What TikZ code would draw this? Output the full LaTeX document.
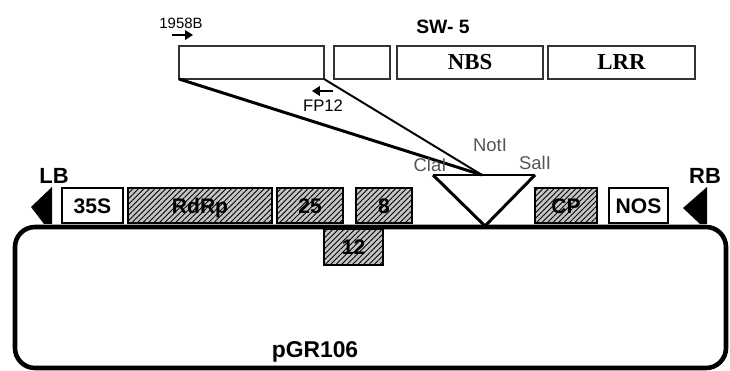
\documentclass[tikz,border=0pt]{standalone}
\usepackage{fontspec}
\setmainfont{Liberation Sans}
\newfontfamily\timesbf{Liberation Serif}
\usetikzlibrary{arrows.meta,patterns.meta}
\definecolor{hatchGray}{HTML}{C4C4C4}
\definecolor{siteGray}{HTML}{555555}
\definecolor{frameGray}{HTML}{333333}

\begin{document}
\begin{tikzpicture}[x=0.02cm,y=-0.02cm,
	swbox/.style={draw=frameGray,line width=0.6pt,inner sep=0pt,outer sep=0pt,minimum height=33*0.02cm,font=\timesbf\fontsize{13}{13}\selectfont\bfseries},
	genebox/.style={draw,line width=0.6pt,inner sep=0pt,outer sep=0pt,minimum height=35*0.02cm,text height=8.6pt,text depth=0pt,font=\fontsize{12}{12}\selectfont\bfseries},
	hatched/.style={genebox,preaction={fill=hatchGray},pattern={Lines[angle=45,distance=2.2pt,line width=0.5pt]}},
	site/.style={font=\fontsize{10.5}{10.5}\selectfont,text=siteGray,inner sep=0pt},
	primer/.style={line width=0.8pt,-{Triangle[length=4.5pt,width=5.5pt]}},
	tag/.style={font=\fontsize{8.5}{8.5}\selectfont,inner sep=0pt}]
	\useasboundingbox(0,0)rectangle(730,371);
	\node[font=\fontsize{11}{11}\selectfont\bfseries](sw5)at(443,27){SW- 5};
	\foreach \nm/\l/\r/\lb in{sa/179/324/,sb/334/390/,nbs/397/543/NBS,lrr/548/695/LRR}
		\node[swbox,minimum width={(\r-\l)*0.02cm}](\nm)at({(\l+\r)/2},62.5){\lb};
	\node[tag](p1958)at(181,23){1958B};
	\coordinate(f1)at(172,35);\coordinate(f2)at(193,35);
	\draw[primer](f1)--(f2);
	\coordinate(r1)at(333,91);\coordinate(r2)at(312,91);
	\draw[primer](r1)--(r2);
	\node[tag,font=\fontsize{9.5}{9.5}\selectfont](fp12)at(323,106){FP12};
	\foreach \nm/\l/\r/\lb in{p35s/62/123/35S,nos/609/668/NOS}
		\node[genebox,minimum width={(\r-\l)*0.02cm}](\nm)at({(\l+\r)/2},205.5){\lb};
	\foreach \nm/\l/\r/\lb in{rdrp/128/272/RdRp,p25/277/343/25,p8/356/412/8,cp/535/597/CP}
		\node[hatched,minimum width={(\r-\l)*0.02cm}](\nm)at({(\l+\r)/2},205.5){\lb};
	\node[hatched,minimum width=59*0.02cm,minimum height=36*0.02cm](p12)at(353.5,247){12};
	\draw[line width=2.6pt,rounded corners=0.4cm](15,227)rectangle(726,368);
	\coordinate(cla)at(433,175);\coordinate(sal)at(535,175);\coordinate(ins)at(485,226);
	\coordinate(join)at(482,175);
	\draw[line width=1.7pt,line join=miter](cla)--(ins)--(sal);
	\draw[line width=0.8pt](cla)--(sal);
	\draw[line width=1.7pt](sa.south west)--(join);
	\draw[line width=1.1pt](sa.south east)--(join);
	\node[site](clai)at(430,165){ClaI};
	\node[site](noti)at(490,145){NotI};
	\node[site](sali)at(535,163){SalI};
	\node[font=\fontsize{12.5}{12.5}\selectfont\bfseries](lb)at(54,176){LB};
	\node[font=\fontsize{12.5}{12.5}\selectfont\bfseries](rb)at(705,176){RB};
	\fill(52,187)--(31,207)--(44,224)--(52,224)--cycle;
	\fill(707,187)--(683,208)--(700,224)--(707,224)--cycle;
	\node[font=\fontsize{13}{13}\selectfont\bfseries](pgr)at(315,352){pGR106};
\end{tikzpicture}
\end{document}
